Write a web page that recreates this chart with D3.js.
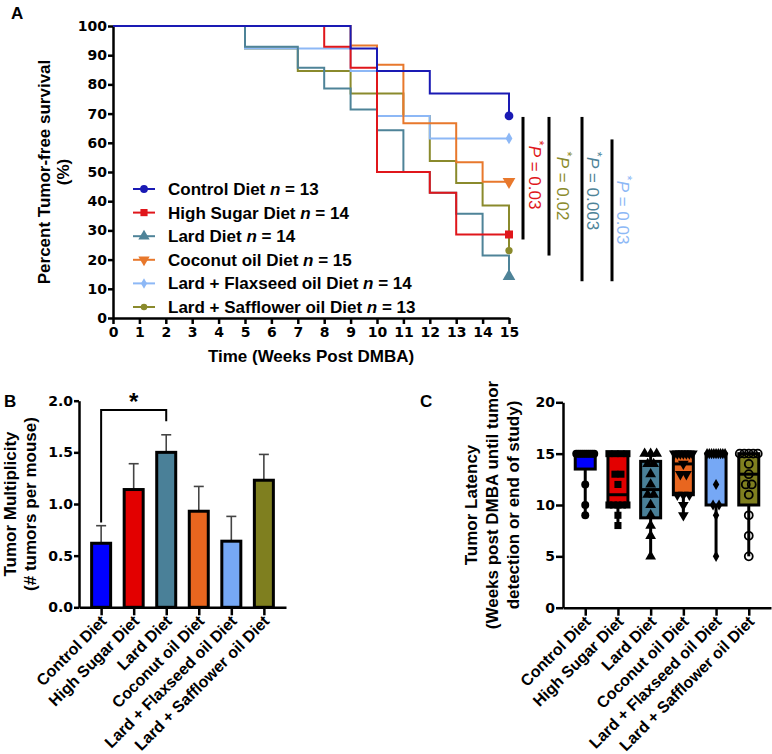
<!DOCTYPE html>
<html><head><meta charset="utf-8">
<script src="https://cdn.jsdelivr.net/npm/d3@7"></script>
<style>
body{margin:0;background:#fff}
svg{display:block}
text{font-family:"Liberation Sans",Arial,sans-serif;font-weight:bold}
</style>
</head><body>
<svg id="chart" width="772" height="754"></svg>
<script>
// ---------------- DATA ----------------
const groups = ["Control Diet","High Sugar Diet","Lard Diet","Coconut oil Diet","Lard + Flaxseed oil Diet","Lard + Safflower oil Diet"];
const groupN = [13,14,14,15,14,13];
const weekTicks = d3.range(0,16);
const pctTicks = [0,10,20,30,40,50,60,70,80,90,100];

// Kaplan-Meier steps: [week, percent tumor-free]
const controlSteps   = [[0,100],[9,92.3],[10,84.6],[12,76.9],[15,69.2]];
const sugarSteps     = [[0,100],[8,92.9],[9,85.7],[10,50],[12,42.9],[13,28.6],[15,28.6]];
const lardSteps      = [[0,100],[5,92.9],[7,85.7],[8,78.6],[9,71.4],[10,64.3],[11,50],[12,42.9],[13,35.7],[14,21.4],[15,14.3]];
const coconutSteps   = [[0,100],[9,93.3],[10,86.7],[11,66.7],[13,53.3],[14,46.7],[15,46.7]];
const flaxSteps      = [[0,100],[5,92.3],[9,84.6],[10,69.2],[12,61.5],[15,61.5]];
const safflowerSteps = [[0,100],[5,92.3],[7,84.6],[9,76.9],[11,69.2],[12,53.8],[13,46.2],[14,38.5],[15,23.1]];

// log-rank annotations: [top %, bottom %], p-value, colour index
const pRanges = [[69.2,28.6],[69.2,23.1],[69.2,14.3],[61.5,14.3]];
const pLabels = ["0.03","0.02","0.003","0.03"];
const pGroupIdx = [1,5,2,4];

// Tumor multiplicity (mean, SEM)
const multTicks = [0,0.5,1.0,1.5,2.0];
const multMean = [0.62,1.14,1.50,0.93,0.64,1.23];
const multSEM  = [0.17,0.25,0.17,0.24,0.24,0.25];

// Tumor latency (weeks) per mouse
const latTicks = [0,5,10,15,20];
const latControl   = [9,10,12,15,15,15,15,15,15,15,15,15,15];
const latSugar     = [8,9,10,10,10,10,10,12,13,13,15,15,15,15];
const latLard      = [5,7,8,9,10,11,11,12,13,14,14,15,15,15];
const latCoconut   = [9,10,11,11,11,13,13,14,15,15,15,15,15,15,15];
const latFlax      = [5,9,10,10,12,15,15,15,15,15,15,15,15,15];
const latSafflower = [5,7,9,11,12,12,13,14,15,15,15,15,15];

// ---------------- STYLE ----------------
const lineColors = ["#1a1ab4","#e0161b","#4e8398","#e8782c","#8db8f6","#8a8a2c"];
const fillColors = ["#0000ff","#e30000","#4a8098","#e8661f","#76a8f5","#7f7f1f"];
const symbols = [d3.symbolCircle,d3.symbolSquare,d3.symbolTriangle,"tridown",d3.symbolDiamond,d3.symbolCircle];
const steps = [controlSteps,sugarSteps,lardSteps,coconutSteps,flaxSteps,safflowerSteps];
const latencies = [latControl,latSugar,latLard,latCoconut,latFlax,latSafflower];

const svg = d3.select("#chart");

function sym(type,size){
  if(type==="tridown") return d3.symbol(d3.symbolTriangle,size)();
  return d3.symbol(type,size)();
}
function styleAxis(g){
  g.selectAll(".domain").attr("stroke","#000").attr("stroke-width",2.5);
  g.selectAll(".tick line").attr("stroke","#000").attr("stroke-width",2.5);
  g.selectAll(".tick text").style("font-family","DejaVu Sans").style("font-weight","bold")
    .style("font-size","14px").style("fill","#000");
}
function title(x,y,rot,txt,size){
  return svg.append("text").attr("transform",`translate(${x},${y})${rot?" rotate("+rot+")":""}`)
    .attr("text-anchor","middle").style("font-size",(size||17)+"px").style("fill","#000").text(txt);
}

// ---------------- PANEL A ----------------
const xA = d3.scaleLinear().domain([0,15]).range([113,509]);
const yA = d3.scaleLinear().domain([0,100]).range([318,26]);

const gxA = svg.append("g").attr("transform",`translate(0,${yA(0)})`)
  .call(d3.axisBottom(xA).tickValues(weekTicks).tickSize(6).tickSizeOuter(0).tickPadding(3));
styleAxis(gxA);
const gyA = svg.append("g").attr("transform",`translate(${xA(0)},0)`)
  .call(d3.axisLeft(yA).tickValues(pctTicks).tickSize(5).tickSizeOuter(0).tickPadding(1));
styleAxis(gyA);

const stepLine = d3.line().x(d=>xA(d[0])).y(d=>yA(d[1])).curve(d3.curveStepAfter);
const drawOrder = [5,4,3,2,1,0];
drawOrder.forEach(i=>{
  svg.append("path").attr("d",stepLine(steps[i])).attr("fill","none")
    .attr("stroke",lineColors[i]).attr("stroke-width",2);
});
const markerSize = [60,64,70,70,40,42];
drawOrder.forEach(i=>{
  const last = steps[i][steps[i].length-1];
  svg.append("path").attr("d",sym(symbols[i],markerSize[i]))
    .attr("transform",`translate(${xA(last[0])},${yA(last[1])})${symbols[i]==="tridown"?" rotate(180)":""}`)
    .attr("fill",lineColors[i]);
});

// legend
const legY0 = 189, legDy = 23.6;
groups.forEach((g,i)=>{
  const y = legY0 + i*legDy;
  svg.append("line").attr("x1",133).attr("x2",155).attr("y1",y).attr("y2",y)
    .attr("stroke",lineColors[i]).attr("stroke-width",2);
  svg.append("path").attr("d",sym(symbols[i],markerSize[i]*0.8))
    .attr("transform",`translate(144,${y})${symbols[i]==="tridown"?" rotate(180)":""}`).attr("fill",lineColors[i]);
  const t = svg.append("text").attr("x",168).attr("y",y+6).style("font-size","17px").style("fill","#000");
  t.append("tspan").text(g+" ");
  t.append("tspan").style("font-style","italic").text("n");
  t.append("tspan").text(" = "+groupN[i]);
});

// p-value annotations
const pLineX = [523,549,582,612];
const pTextX = [535,563,593,623];
const pTextY = [175,186,191,210];
pRanges.forEach((r,i)=>{
  svg.append("line").attr("x1",pLineX[i]).attr("x2",pLineX[i])
    .attr("y1",yA(r[0])+1).attr("y2",yA(r[1])+5).attr("stroke","#000").attr("stroke-width",3);
  const t = svg.append("text").attr("transform",`translate(${pTextX[i]-6},${pTextY[i]}) rotate(90)`)
    .attr("text-anchor","middle").style("font-weight","normal")
    .style("font-size","17px").style("fill",lineColors[pGroupIdx[i]]);
  t.append("tspan").attr("dy",-6).style("font-size","13px").text("*");
  t.append("tspan").attr("dy",6).style("font-style","italic").text("P");
  t.append("tspan").text(" = "+pLabels[i]);
});

// axis titles
title(50,172,-90,"Percent Tumor-free survival");
title(69,172,-90,"(%)");
title(311,362,0,"Time (Weeks Post DMBA)");
svg.append("text").attr("x",11).attr("y",19).style("font-size","17px").style("fill","#000").text("A");

// ---------------- PANEL B ----------------
const xB = d3.scalePoint().domain(groups).range([79,286]).padding(0.68);
const yB = d3.scaleLinear().domain([0,2]).range([607.3,400.7]);

groups.forEach((g,i)=>{
  const cx = xB(g), top = yB(multMean[i]+multSEM[i]);
  svg.append("line").attr("x1",cx).attr("x2",cx).attr("y1",yB(multMean[i])).attr("y2",top)
    .attr("stroke","#444").attr("stroke-width",1.6);
  svg.append("line").attr("x1",cx-5).attr("x2",cx+5).attr("y1",top).attr("y2",top)
    .attr("stroke","#444").attr("stroke-width",1.6);
});
svg.selectAll(".bar").data(groups).enter().append("rect")
  .attr("x",g=>xB(g)-9.5).attr("width",19)
  .attr("y",(g,i)=>yB(multMean[i])).attr("height",(g,i)=>yB(0)-yB(multMean[i]))
  .attr("fill",(g,i)=>fillColors[i]).attr("stroke","#000").attr("stroke-width",3);

const gxB = svg.append("g").attr("transform",`translate(0,${yB(0)})`)
  .call(d3.axisBottom(xB).tickSize(8).tickSizeOuter(0));
styleAxis(gxB);
gxB.selectAll(".tick text").attr("text-anchor","end").attr("dy",null).attr("y",null)
  .style("font-family","Liberation Sans").style("font-size","16px")
  .attr("transform","translate(6,15) rotate(-45)");
const gyB = svg.append("g").attr("transform",`translate(79,0)`)
  .call(d3.axisLeft(yB).tickValues(multTicks).tickFormat(d3.format(".1f")).tickSize(5).tickSizeOuter(0).tickPadding(1));
styleAxis(gyB);

// significance bracket
const bx1 = xB(groups[0]), bx2 = xB(groups[2]);
svg.append("path").attr("d",`M${bx1},${yB(0.82)}V${yB(1.91)}H${bx2}V${yB(1.80)}`)
  .attr("fill","none").attr("stroke","#000").attr("stroke-width",2);
svg.append("text").attr("x",(bx1+bx2)/2).attr("y",410).attr("text-anchor","middle")
  .style("font-size","24px").style("fill","#000").text("*");

title(16,504,-90,"Tumor Multiplicity");
title(36,504,-90,"(# tumors per mouse)");
svg.append("text").attr("x",4).attr("y",407).style("font-size","17px").style("fill","#000").text("B");

// ---------------- PANEL C ----------------
const xC = d3.scalePoint().domain(groups).range([563,771]).padding(0.68);
const yC = d3.scaleLinear().domain([0,20]).range([607.7,402.3]);

function q(sorted,p){ // (n+1)p method
  const n = sorted.length, pos = p*(n+1);
  if(pos<=1) return sorted[0];
  if(pos>=n) return sorted[n-1];
  const lo = Math.floor(pos), f = pos-lo;
  return sorted[lo-1] + f*(sorted[lo]-sorted[lo-1]);
}
groups.forEach((g,i)=>{
  const v = latencies[i].slice().sort((a,b)=>a-b);
  const q1=q(v,0.25), med=q(v,0.5), q3=q(v,0.75), mn=v[0], mx=v[v.length-1];
  const cx = xC(g), w = 20;
  const gg = svg.append("g");
  gg.append("line").attr("x1",cx).attr("x2",cx).attr("y1",yC(mn)).attr("y2",yC(q1)).attr("stroke","#000").attr("stroke-width",3);
  gg.append("line").attr("x1",cx).attr("x2",cx).attr("y1",yC(q3)).attr("y2",yC(mx)).attr("stroke","#000").attr("stroke-width",3);
  gg.append("rect").attr("x",cx-w/2).attr("width",w).attr("y",yC(q3)).attr("height",Math.max(0,yC(q1)-yC(q3)))
    .attr("fill",fillColors[i]).attr("stroke","#000").attr("stroke-width",3);
  gg.append("line").attr("x1",cx-w/2).attr("x2",cx+w/2).attr("y1",yC(med)).attr("y2",yC(med)).attr("stroke","#000").attr("stroke-width",3);
  const counts = d3.rollup(v,a=>a.length,d=>d);
  const seen = new Map();
  v.forEach(val=>{
    const k = counts.get(val), j = seen.get(val)||0; seen.set(val,j+1);
    const sp = Math.min(6, 18/Math.max(1,k-1));
    const px = cx + (j-(k-1)/2)*sp;
    const p = gg.append("path").attr("d",sym(symbols[i],i===4?36:50))
      .attr("transform",`translate(${px},${yC(val)})${symbols[i]==="tridown"?" rotate(180)":""}`);
    if(i===5) p.attr("fill","none").attr("stroke","#000").attr("stroke-width",1.8);
    else p.attr("fill","#000");
  });
});

const gxC = svg.append("g").attr("transform",`translate(0,${yC(0)})`)
  .call(d3.axisBottom(xC).tickSize(8).tickSizeOuter(0));
styleAxis(gxC);
gxC.selectAll(".tick text").attr("text-anchor","end").attr("dy",null).attr("y",null)
  .style("font-family","Liberation Sans").style("font-size","16px")
  .attr("transform","translate(6,15) rotate(-45)");
const gyC = svg.append("g").attr("transform",`translate(563,0)`)
  .call(d3.axisLeft(yC).tickValues(latTicks).tickSize(7).tickSizeOuter(0).tickPadding(1));
styleAxis(gyC);

title(477,505,-90,"Tumor Latency");
title(498,505,-90,"(Weeks post DMBA until tumor");
title(519,505,-90,"detection or end of study)");
svg.append("text").attr("x",420).attr("y",407).style("font-size","17px").style("fill","#000").text("C");
</script>
</body></html>
